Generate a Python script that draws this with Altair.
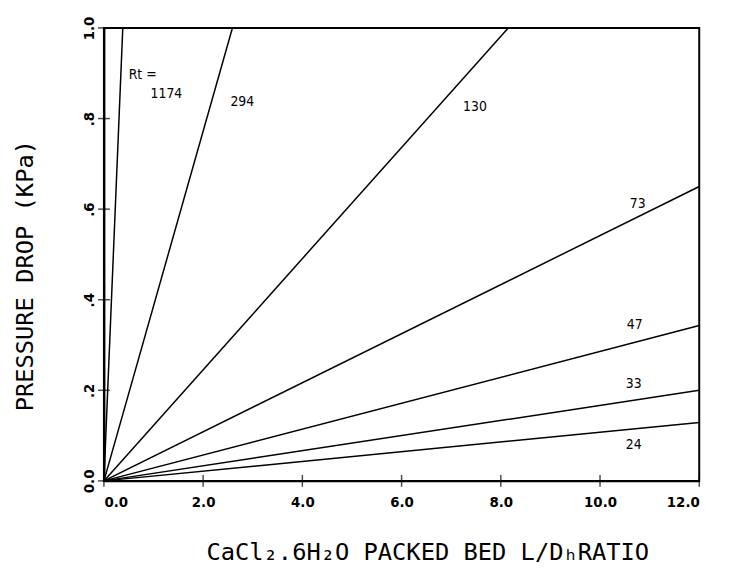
import altair as alt
import pandas as pd

# Series: Rt values, lines from origin to their end point
rt_labels = ["1174", "294", "130", "73", "47", "33", "24"]
end_x = [0.38, 2.59, 8.15, 12.0, 12.0, 12.0, 12.0]
end_y = [1.0, 1.0, 1.0, 0.65, 0.343, 0.2, 0.129]

# Annotations (data coordinates)
ann_text = ["Rt =", "1174", "294", "130", "73", "47", "33", "24"]
ann_x = [0.50, 0.94, 2.55, 7.24, 10.6, 10.54, 10.52, 10.52]
ann_y = [0.897, 0.854, 0.836, 0.825, 0.611, 0.345, 0.214, 0.079]

# Ticks
x_ticks = [0, 2, 4, 6, 8, 10, 12]
y_ticks = [0.0, 0.2, 0.4, 0.6, 0.8, 1.0]
y_tick_labels = ["0.0", ".2", ".4", ".6", ".8", "1.0"]

rows = []
for lab, ex, ey in zip(rt_labels, end_x, end_y):
    rows.append({"rt": lab, "x": 0.0, "y": 0.0})
    rows.append({"rt": lab, "x": ex, "y": ey})
lines_df = pd.DataFrame(rows)
ann_df = pd.DataFrame({"t": ann_text, "x": ann_x, "y": ann_y})

ylab_expr = "''"
for v, s in zip(reversed(y_ticks), reversed(y_tick_labels)):
    ylab_expr = f"abs(datum.value - {v}) < 1e-6 ? '{s}' : ({ylab_expr})"

TICKFONT = "DejaVu Sans Condensed"
TITLEFONT = "DejaVu Sans Mono"

xscale = alt.Scale(domain=[0, 12], nice=False)
yscale = alt.Scale(domain=[0, 1], nice=False)

xaxis = alt.Axis(
    values=x_ticks, format=".1f", ticks=False, grid=False,
    domainColor="black", domainWidth=2,
    labelFont=TICKFONT, labelFontSize=15, labelFontWeight="bold", labelColor="black",
    labelPadding=14,
    title="CaCl₂.6H₂O PACKED BED L/DₕRATIO",
    titleFont=TITLEFONT, titleFontSize=24, titleFontWeight="normal", titleColor="black",
    titleX=327, titleY=72, titleBaseline="middle", titleAlign="center",
)
yaxis = alt.Axis(
    values=y_ticks, labelExpr=ylab_expr, ticks=False, grid=False,
    domainColor="black", domainWidth=2,
    labelFont=TICKFONT, labelFontSize=15, labelFontWeight="bold", labelColor="black",
    labelAngle=270, labelAlign="center", labelBaseline="bottom", labelPadding=8,
    title="PRESSURE DROP (KPa)",
    titleFont=TITLEFONT, titleFontSize=24, titleFontWeight="normal", titleColor="black",
    titleX=-79, titleY=250, titleAngle=270, titleBaseline="middle", titleAlign="center",
)

lines = alt.Chart(lines_df).mark_line(color="black", strokeWidth=1.5).encode(
    x=alt.X("x:Q", scale=xscale, axis=xaxis),
    y=alt.Y("y:Q", scale=yscale, axis=yaxis),
    detail="rt:N",
)

texts = alt.Chart(ann_df).mark_text(
    align="left", baseline="middle", font=TICKFONT, fontSize=14, color="black"
).encode(x=alt.X("x:Q", scale=xscale), y=alt.Y("y:Q", scale=yscale), text="t:N")

xt = alt.Chart(pd.DataFrame({"x": x_ticks, "y": [0.0] * len(x_ticks)})).mark_tick(
    orient="vertical", size=12, thickness=1.5, color="black"
).encode(x=alt.X("x:Q", scale=xscale), y=alt.Y("y:Q", scale=yscale))

yt = alt.Chart(pd.DataFrame({"x": [0.0] * len(y_ticks), "y": y_ticks})).mark_tick(
    orient="horizontal", size=12, thickness=1.5, color="black"
).encode(x=alt.X("x:Q", scale=xscale), y=alt.Y("y:Q", scale=yscale))

chart = alt.layer(lines, texts, xt, yt).properties(
    width=602, height=458,
    autosize=alt.AutoSizeParams(type="none"),
    padding={"left": 97, "top": 17, "right": 22, "bottom": 94},
    background="white",
).configure_view(stroke="black", strokeWidth=2)

chart.save("out.html", embed_options={"renderer": "svg", "actions": False})
